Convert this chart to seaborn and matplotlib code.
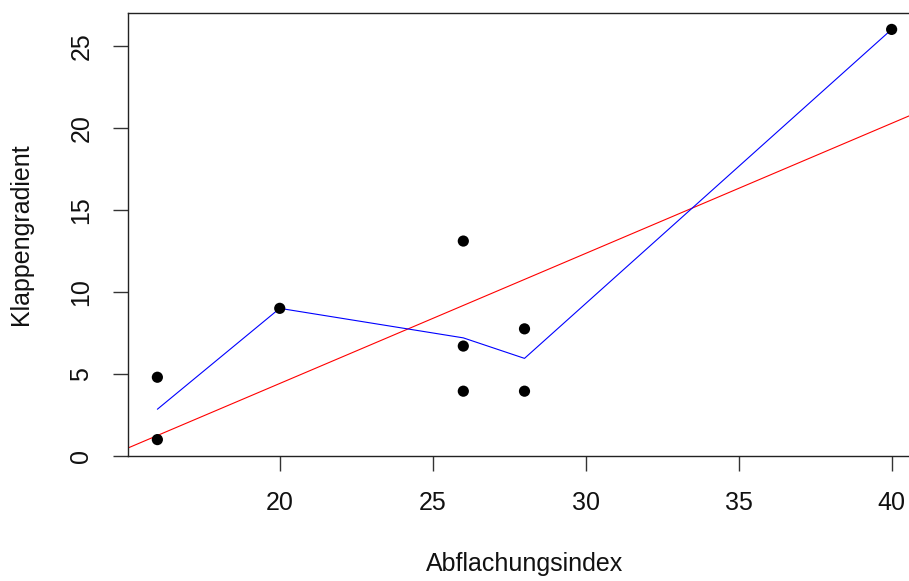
import numpy as np
import pandas as pd
import matplotlib
matplotlib.use("Agg")
import matplotlib.pyplot as plt
import seaborn as sns

# --- data ---
abflachung = [16, 16, 20, 26, 26, 26, 28, 28, 40]
klappen = [4.8, 1.0, 9.0, 13.1, 6.7, 3.95, 7.75, 3.95, 26.0]

# smoothed (lowess) curve, one value per distinct x
lowess_x = [16, 20, 26, 28, 40]
lowess_y = [2.85, 9.0, 7.2, 5.95, 26.0]

x_ticks = [20, 25, 30, 35, 40]
y_ticks = [0, 5, 10, 15, 20, 25]

df = pd.DataFrame({"Abflachungsindex": abflachung, "Klappengradient": klappen})
smooth = pd.DataFrame({"x": lowess_x, "y": lowess_y})

sns.set_style("white")
plt.rcParams["font.family"] = ["Liberation Sans", "DejaVu Sans"]
plt.rcParams["text.color"] = "#111111"
plt.rcParams["axes.labelcolor"] = "#111111"
plt.rcParams["xtick.color"] = "#111111"
plt.rcParams["ytick.color"] = "#111111"

fig = plt.figure(figsize=(9.09, 5.81), dpi=100)
# R-style plot region; right part of the box is cropped off in the reference
ax = fig.add_axes([128 / 909, 1 - 456 / 581, 793 / 909, 443 / 581])

xlim = (15.04, 40.96)
ylim = (0, 27)

# regression line across the whole plot (abline)
slope, intercept = np.polyfit(abflachung, klappen, 1)
fit = pd.DataFrame({"x": list(xlim)})
fit["y"] = intercept + slope * fit["x"]
sns.lineplot(data=fit, x="x", y="y", color="red", linewidth=0.8, ax=ax)

sns.lineplot(data=smooth, x="x", y="y", color="blue", linewidth=0.8,
             sort=False, ax=ax)

sns.scatterplot(data=df, x="Abflachungsindex", y="Klappengradient",
                color="black", s=65, edgecolor="none", ax=ax, zorder=3)

ax.set_xlim(xlim)
ax.set_ylim(ylim)
ax.set_xticks(x_ticks)
ax.set_yticks(y_ticks)
ax.set_xticklabels([str(t) for t in x_ticks], fontsize=18)
ax.set_yticklabels([str(t) for t in y_ticks], fontsize=18, rotation=90,
                   va="center")
ax.tick_params(axis="both", direction="out", length=11, width=1.0,
               color="#333333", bottom=True, left=True)
ax.tick_params(axis="x", pad=14)
ax.tick_params(axis="y", pad=14)

ax.set_xlabel("Abflachungsindex", fontsize=18, labelpad=27)
ax.set_ylabel("Klappengradient", fontsize=18, labelpad=26)

for side in ["left", "right", "top", "bottom"]:
    ax.spines[side].set_visible(True)
    ax.spines[side].set_color("#222222")
    ax.spines[side].set_linewidth(1.0)

ax.grid(False)
fig.savefig("out.png", dpi=100)
